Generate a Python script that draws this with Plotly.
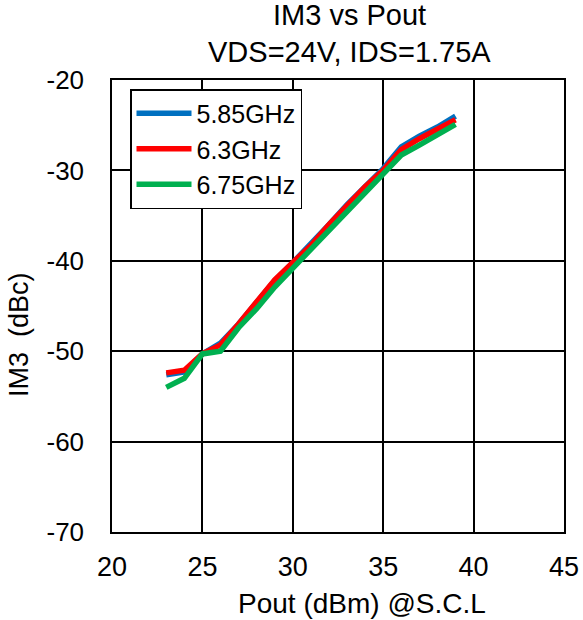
import plotly.graph_objects as go

pout = [23, 24, 25, 26, 27, 28, 29, 30, 31, 32, 33, 34, 35, 36, 37, 38, 39]
im3_585 = [-52.6, -52.3, -50.3, -49.1, -47.0, -44.7, -42.2, -40.2, -38.2, -36.0, -33.8, -31.7, -29.8, -27.4, -26.2, -25.2, -24.0]
im3_63 = [-52.4, -52.1, -50.3, -49.3, -47.0, -44.6, -42.1, -40.2, -38.3, -36.0, -33.9, -31.8, -30.0, -27.7, -26.5, -25.5, -24.4]
im3_675 = [-54.0, -53.0, -50.3, -50.0, -47.4, -45.3, -42.9, -40.8, -38.8, -36.5, -34.6, -32.3, -30.2, -28.3, -27.2, -26.1, -24.9]
names = ["5.85GHz", "6.3GHz", "6.75GHz"]
colors = ["#0070C0", "#FF0000", "#00B050"]
x_ticks = [20, 25, 30, 35, 40, 45]
x_ticktext = ["20", "25", "30", "35", "40", "45"]
y_ticks = [-70, -60, -50, -40, -30, -20]
y_ticktext = ["-70", "-60", "-50", "-40", "-30", "-20"]

W, H = 583, 620
l, r, t, b = 112, 19, 80, 88
pw, ph = W - l - r, H - t - b


def px(xp):
    return (xp - l) / pw


def py(yp):
    return (H - b - yp) / ph


fig = go.Figure()
for name, ys, c in zip(names, [im3_585, im3_63, im3_675], colors):
    fig.add_trace(go.Scatter(x=pout, y=ys, mode="lines", name=name,
                             line=dict(color=c, width=5.5)))

font = "Liberation Sans, Arial, sans-serif"
fig.update_layout(
    width=W, height=H,
    margin=dict(l=l, r=r, t=t, b=b),
    paper_bgcolor="white", plot_bgcolor="white",
    font=dict(family=font, size=26, color="black"),
    xaxis=dict(range=[20, 45], tickvals=x_ticks, ticktext=x_ticktext,
               showgrid=True, gridcolor="black", gridwidth=1.5,
               showline=True, linecolor="black", linewidth=1.5, mirror=True,
               ticks="", zeroline=False, tickfont=dict(size=27),
               automargin=False, ticklabelstandoff=10),
    yaxis=dict(range=[-70, -20], tickvals=y_ticks, ticktext=y_ticktext,
               showgrid=True, gridcolor="black", gridwidth=1.5,
               showline=True, linecolor="black", linewidth=1.5, mirror=True,
               ticks="", zeroline=False, tickfont=dict(size=26),
               automargin=False, ticklabelstandoff=21),
    legend=dict(x=px(130), y=py(89), xanchor="left", yanchor="top",
                bgcolor="white", bordercolor="black", borderwidth=1.5,
                font=dict(size=25), tracegroupgap=0, itemwidth=55),
    showlegend=True,
    annotations=[
        dict(text="IM3 vs Pout", x=px(349), y=py(15), xref="paper", yref="paper",
             xanchor="center", yanchor="middle", showarrow=False, font=dict(size=29)),
        dict(text="VDS=24V, IDS=1.75A", x=px(349), y=py(52), xref="paper", yref="paper",
             xanchor="center", yanchor="middle", showarrow=False, font=dict(size=29)),
        dict(text="Pout (dBm) @S.C.L", x=px(362), y=py(603), xref="paper", yref="paper",
             xanchor="center", yanchor="middle", showarrow=False, font=dict(size=28)),
        dict(text="IM3  (dBc)", x=px(19), y=py(335), xref="paper", yref="paper",
             xanchor="center", yanchor="middle", showarrow=False, textangle=-90,
             font=dict(size=27)),
    ],
)
fig.write_html("out.html", config={"displayModeBar": False},
               post_script="document.body.style.margin='0';document.body.style.overflow='hidden';")
